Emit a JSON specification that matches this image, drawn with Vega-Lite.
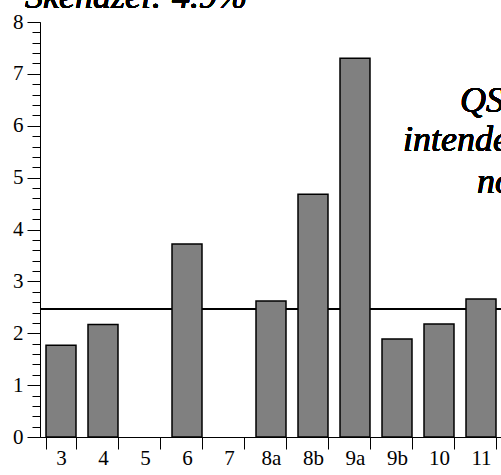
{
  "$schema": "https://vega.github.io/schema/vega-lite/v6.json",
  "width": 462,
  "height": 415,
  "autosize": {"type": "none"},
  "padding": {"left": 40, "top": 22, "right": 0, "bottom": 38},
  "background": "white",
  "config": {
    "view": {"stroke": null},
    "axis": {"domainColor": "black", "tickColor": "black", "labelColor": "black", "labelFont": "Liberation Serif", "grid": false, "title": null}
  },
  "data": {
    "values": [
      {"cat": "3", "val": 1.77},
      {"cat": "4", "val": 2.17},
      {"cat": "5", "val": 0},
      {"cat": "6", "val": 3.72},
      {"cat": "7", "val": 0},
      {"cat": "8a", "val": 2.62},
      {"cat": "8b", "val": 4.68},
      {"cat": "9a", "val": 7.3},
      {"cat": "9b", "val": 1.89},
      {"cat": "10", "val": 2.18},
      {"cat": "11", "val": 2.66}
    ]
  },
  "resolve": {"scale": {"y": "shared", "x": "shared"}, "axis": {"y": "independent"}},
  "layer": [
    {
      "mark": {"type": "rule", "color": "black", "strokeWidth": 1},
      "encoding": {
        "y": {
          "datum": 2.47,
          "type": "quantitative",
          "scale": {"domain": [0, 8], "nice": false, "zero": true},
          "axis": {
            "orient": "left",
            "values": [0,0.2,0.4,0.6,0.8,1,1.2,1.4,1.6,1.8,2,2.2,2.4,2.6,2.8,3,3.2,3.4,3.6,3.8,4,4.2,4.4,4.6,4.8,5,5.2,5.4,5.6,5.8,6,6.2,6.4,6.6,6.8,7,7.2,7.4,7.6,7.8,8],
            "labels": false,
            "domain": false,
            "tickSize": 8,
            "tickWidth": 1,
            "title": null
          }
        }
      }
    },
    {
      "mark": {"type": "bar", "color": "#808080", "stroke": "black", "strokeWidth": 1.5},
      "encoding": {
        "x": {
          "field": "cat",
          "type": "nominal",
          "sort": null,
          "scale": {"paddingInner": 0.286, "paddingOuter": 0.143},
          "axis": {
            "tickBand": "extent",
            "labelAngle": 0,
            "labelFont": "Liberation Serif",
            "labelFontSize": 21,
            "labelPadding": -2,
            "tickSize": 12,
            "domainWidth": 1,
            "tickWidth": 1,
            "title": null
          }
        },
        "y": {
          "field": "val",
          "type": "quantitative",
          "scale": {"domain": [0, 8], "nice": false},
          "axis": {
            "orient": "left",
            "values": [0, 1, 2, 3, 4, 5, 6, 7, 8],
            "labelFont": "Liberation Serif",
            "tickSize": 13,
            "labelPadding": 4,
            "labelFontSize": 21,
            "domainWidth": 1,
            "tickWidth": 1,
            "title": null
          }
        },
        "strokeOpacity": {"condition": {"test": "datum.val > 0", "value": 1}, "value": 0}
      }
    },
    {
      "mark": {"type": "text", "text": "Skenazei: 4.9%", "font": "Liberation Serif", "fontStyle": "italic", "fontWeight": "normal", "fontSize": 36, "align": "left", "baseline": "alphabetic", "dx": -36, "dy": -14, "color": "black"},
      "encoding": {
        "x": {"datum": "3", "type": "nominal"},
        "y": {"datum": 8, "type": "quantitative", "axis": null}
      }
    },
    {
      "mark": {"type": "text", "text": "QS", "font": "Liberation Serif", "fontStyle": "italic", "fontWeight": "normal", "fontSize": 36, "align": "left", "baseline": "alphabetic", "dx": -21, "color": "black"},
      "encoding": {
        "x": {"datum": "11", "type": "nominal"},
        "y": {"datum": 6.26, "type": "quantitative", "axis": null}
      }
    },
    {
      "mark": {"type": "text", "text": "intended", "font": "Liberation Serif", "fontStyle": "italic", "fontWeight": "normal", "fontSize": 36, "align": "left", "baseline": "alphabetic", "dx": 6, "color": "black"},
      "encoding": {
        "x": {"datum": "9b", "type": "nominal"},
        "y": {"datum": 5.51, "type": "quantitative", "axis": null}
      }
    },
    {
      "mark": {"type": "text", "text": "no", "font": "Liberation Serif", "fontStyle": "italic", "fontWeight": "normal", "fontSize": 36, "align": "left", "baseline": "alphabetic", "dx": -4, "color": "black"},
      "encoding": {
        "x": {"datum": "11", "type": "nominal"},
        "y": {"datum": 4.7, "type": "quantitative", "axis": null}
      }
    }
  ]
}
